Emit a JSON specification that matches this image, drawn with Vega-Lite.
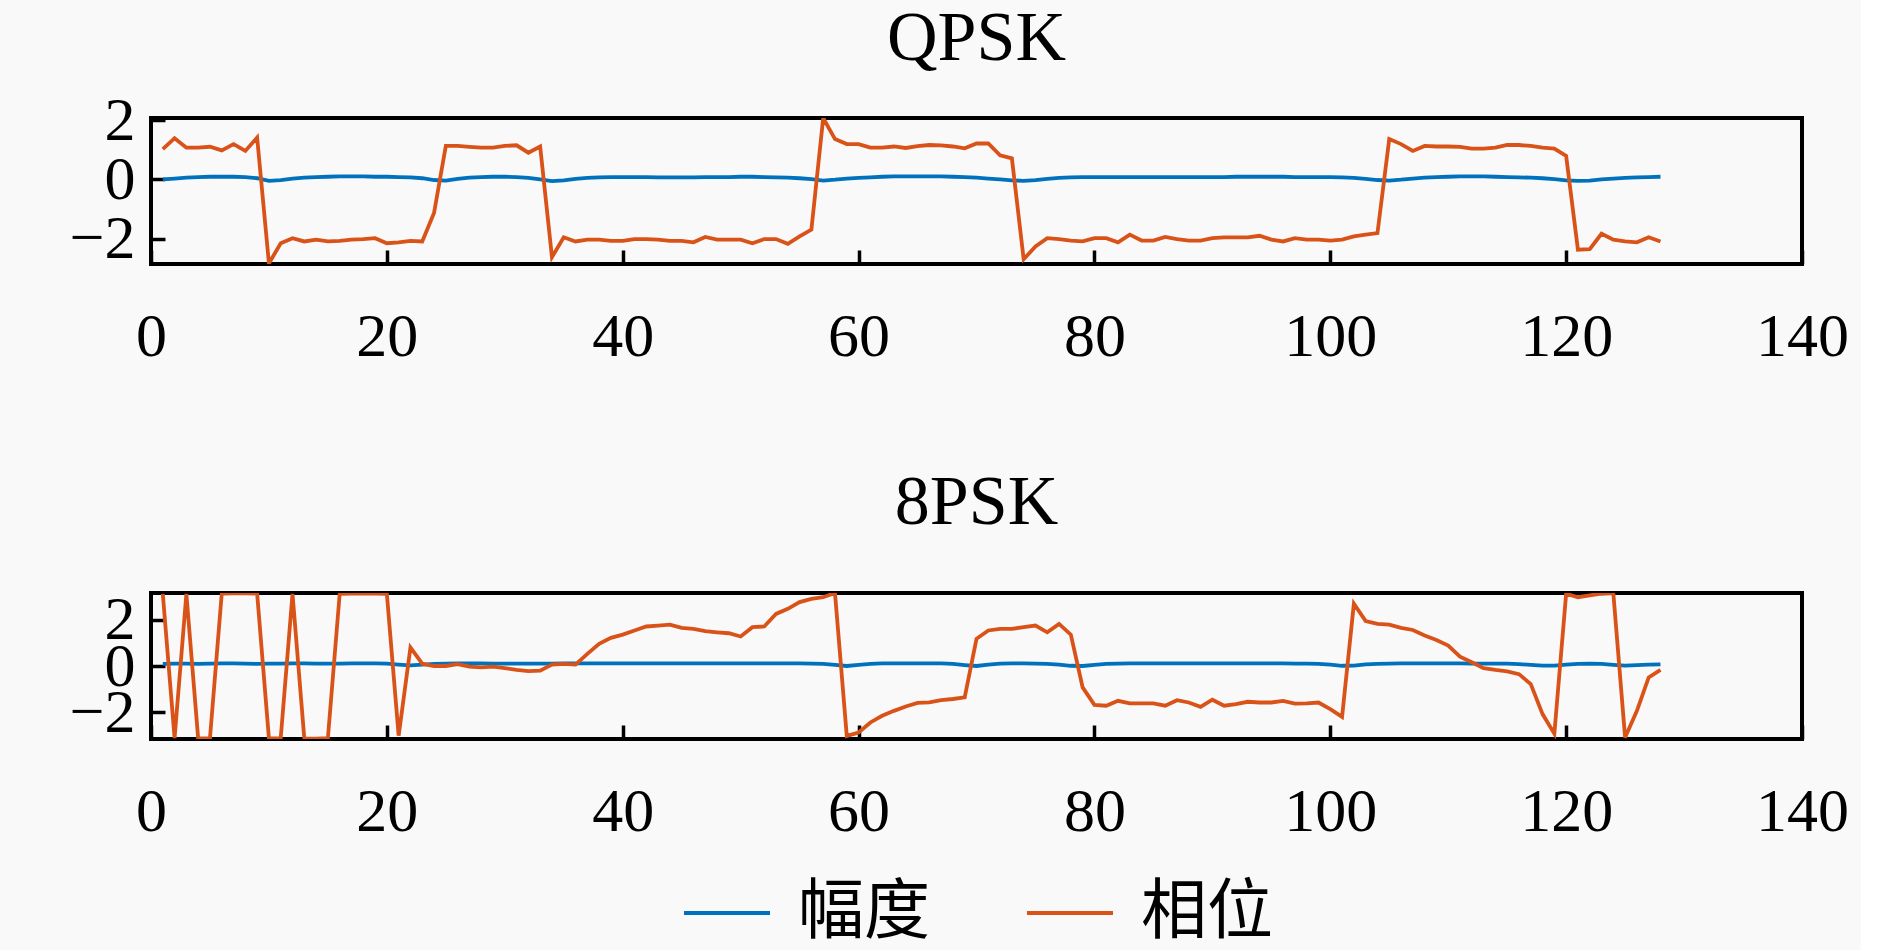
{
  "$schema": "https://vega.github.io/schema/vega-lite/v6.json",
  "background": "#f9f9f9",
  "padding": {"left": 67, "top": 2, "right": 10, "bottom": 80},
  "datasets": {
    "qpsk": [
      {"n":1,"amp":0.00,"phase":1.02},{"n":2,"amp":0.03,"phase":1.39},{"n":3,"amp":0.06,"phase":1.07},{"n":4,"amp":0.08,"phase":1.07},
      {"n":5,"amp":0.09,"phase":1.10},{"n":6,"amp":0.09,"phase":0.98},{"n":7,"amp":0.09,"phase":1.19},{"n":8,"amp":0.08,"phase":0.96},
      {"n":9,"amp":0.04,"phase":1.41},{"n":10,"amp":-0.05,"phase":-2.83},{"n":11,"amp":-0.02,"phase":-2.15},{"n":12,"amp":0.03,"phase":-1.98},
      {"n":13,"amp":0.06,"phase":-2.09},{"n":14,"amp":0.08,"phase":-2.03},{"n":15,"amp":0.09,"phase":-2.09},{"n":16,"amp":0.10,"phase":-2.07},
      {"n":17,"amp":0.10,"phase":-2.03},{"n":18,"amp":0.10,"phase":-2.01},{"n":19,"amp":0.09,"phase":-1.98},{"n":20,"amp":0.09,"phase":-2.15},
      {"n":21,"amp":0.08,"phase":-2.12},{"n":22,"amp":0.07,"phase":-2.07},{"n":23,"amp":0.04,"phase":-2.09},{"n":24,"amp":-0.02,"phase":-1.13},
      {"n":25,"amp":-0.04,"phase":1.13},{"n":26,"amp":0.02,"phase":1.13},{"n":27,"amp":0.06,"phase":1.10},{"n":28,"amp":0.08,"phase":1.07},
      {"n":29,"amp":0.09,"phase":1.07},{"n":30,"amp":0.09,"phase":1.13},{"n":31,"amp":0.08,"phase":1.15},{"n":32,"amp":0.05,"phase":0.90},
      {"n":33,"amp":0.00,"phase":1.11},{"n":34,"amp":-0.06,"phase":-2.62},{"n":35,"amp":-0.03,"phase":-1.95},{"n":36,"amp":0.02,"phase":-2.09},
      {"n":37,"amp":0.05,"phase":-2.03},{"n":38,"amp":0.07,"phase":-2.03},{"n":39,"amp":0.08,"phase":-2.07},{"n":40,"amp":0.08,"phase":-2.07},
      {"n":41,"amp":0.08,"phase":-2.01},{"n":42,"amp":0.08,"phase":-2.01},{"n":43,"amp":0.07,"phase":-2.03},{"n":44,"amp":0.07,"phase":-2.07},
      {"n":45,"amp":0.07,"phase":-2.07},{"n":46,"amp":0.07,"phase":-2.12},{"n":47,"amp":0.08,"phase":-1.94},{"n":48,"amp":0.08,"phase":-2.03},
      {"n":49,"amp":0.08,"phase":-2.03},{"n":50,"amp":0.09,"phase":-2.03},{"n":51,"amp":0.09,"phase":-2.15},{"n":52,"amp":0.08,"phase":-2.01},
      {"n":53,"amp":0.07,"phase":-2.01},{"n":54,"amp":0.06,"phase":-2.17},{"n":55,"amp":0.04,"phase":-1.92},{"n":56,"amp":0.01,"phase":-1.69},
      {"n":57,"amp":-0.04,"phase":2.07},{"n":58,"amp":-0.01,"phase":1.36},{"n":59,"amp":0.03,"phase":1.19},{"n":60,"amp":0.05,"phase":1.19},
      {"n":61,"amp":0.07,"phase":1.07},{"n":62,"amp":0.09,"phase":1.07},{"n":63,"amp":0.10,"phase":1.11},{"n":64,"amp":0.10,"phase":1.06},
      {"n":65,"amp":0.10,"phase":1.12},{"n":66,"amp":0.10,"phase":1.16},{"n":67,"amp":0.10,"phase":1.15},{"n":68,"amp":0.09,"phase":1.11},
      {"n":69,"amp":0.08,"phase":1.05},{"n":70,"amp":0.06,"phase":1.21},{"n":71,"amp":0.03,"phase":1.21},{"n":72,"amp":0.00,"phase":0.81},
      {"n":73,"amp":-0.03,"phase":0.71},{"n":74,"amp":-0.05,"phase":-2.69},{"n":75,"amp":-0.02,"phase":-2.26},{"n":76,"amp":0.02,"phase":-1.98},
      {"n":77,"amp":0.05,"phase":-2.01},{"n":78,"amp":0.07,"phase":-2.06},{"n":79,"amp":0.08,"phase":-2.09},{"n":80,"amp":0.08,"phase":-1.98},
      {"n":81,"amp":0.08,"phase":-1.98},{"n":82,"amp":0.08,"phase":-2.12},{"n":83,"amp":0.08,"phase":-1.86},{"n":84,"amp":0.08,"phase":-2.06},
      {"n":85,"amp":0.08,"phase":-2.06},{"n":86,"amp":0.08,"phase":-1.94},{"n":87,"amp":0.08,"phase":-2.01},{"n":88,"amp":0.08,"phase":-2.06},
      {"n":89,"amp":0.08,"phase":-2.06},{"n":90,"amp":0.08,"phase":-1.98},{"n":91,"amp":0.08,"phase":-1.95},{"n":92,"amp":0.09,"phase":-1.95},
      {"n":93,"amp":0.09,"phase":-1.95},{"n":94,"amp":0.09,"phase":-1.90},{"n":95,"amp":0.09,"phase":-2.03},{"n":96,"amp":0.09,"phase":-2.09},
      {"n":97,"amp":0.08,"phase":-1.98},{"n":98,"amp":0.08,"phase":-2.03},{"n":99,"amp":0.08,"phase":-2.03},{"n":100,"amp":0.08,"phase":-2.06},
      {"n":101,"amp":0.07,"phase":-2.03},{"n":102,"amp":0.05,"phase":-1.92},{"n":103,"amp":0.02,"phase":-1.86},{"n":104,"amp":-0.02,"phase":-1.81},
      {"n":105,"amp":-0.04,"phase":1.36},{"n":106,"amp":-0.01,"phase":1.19},{"n":107,"amp":0.03,"phase":0.96},{"n":108,"amp":0.06,"phase":1.13},
      {"n":109,"amp":0.08,"phase":1.11},{"n":110,"amp":0.09,"phase":1.11},{"n":111,"amp":0.10,"phase":1.10},{"n":112,"amp":0.10,"phase":1.04},
      {"n":113,"amp":0.10,"phase":1.04},{"n":114,"amp":0.09,"phase":1.07},{"n":115,"amp":0.08,"phase":1.16},{"n":116,"amp":0.07,"phase":1.16},
      {"n":117,"amp":0.06,"phase":1.13},{"n":118,"amp":0.04,"phase":1.07},{"n":119,"amp":0.01,"phase":1.04},{"n":120,"amp":-0.03,"phase":0.79},
      {"n":121,"amp":-0.05,"phase":-2.37},{"n":122,"amp":-0.04,"phase":-2.35},{"n":123,"amp":0.00,"phase":-1.83},{"n":124,"amp":0.03,"phase":-2.03},
      {"n":125,"amp":0.05,"phase":-2.09},{"n":126,"amp":0.07,"phase":-2.12},{"n":127,"amp":0.08,"phase":-1.95},{"n":128,"amp":0.09,"phase":-2.09}
    ],
    "psk8": [
      {"n":1,"amp":0.09,"phase":3.10},{"n":2,"amp":0.10,"phase":-3.10},{"n":3,"amp":0.10,"phase":3.10},{"n":4,"amp":0.09,"phase":-3.12},
      {"n":5,"amp":0.10,"phase":-3.10},{"n":6,"amp":0.11,"phase":3.12},{"n":7,"amp":0.11,"phase":3.13},{"n":8,"amp":0.10,"phase":3.13},
      {"n":9,"amp":0.09,"phase":3.12},{"n":10,"amp":0.10,"phase":-3.12},{"n":11,"amp":0.10,"phase":-3.10},{"n":12,"amp":0.11,"phase":3.10},
      {"n":13,"amp":0.11,"phase":-3.12},{"n":14,"amp":0.10,"phase":-3.13},{"n":15,"amp":0.10,"phase":-3.10},{"n":16,"amp":0.10,"phase":3.10},
      {"n":17,"amp":0.11,"phase":3.12},{"n":18,"amp":0.11,"phase":3.13},{"n":19,"amp":0.11,"phase":3.12},{"n":20,"amp":0.10,"phase":3.10},
      {"n":21,"amp":0.06,"phase":-3.00},{"n":22,"amp":0.03,"phase":0.80},{"n":23,"amp":0.06,"phase":0.10},{"n":24,"amp":0.09,"phase":0.00},
      {"n":25,"amp":0.10,"phase":0.00},{"n":26,"amp":0.11,"phase":0.08},{"n":27,"amp":0.11,"phase":-0.03},{"n":28,"amp":0.11,"phase":-0.06},
      {"n":29,"amp":0.10,"phase":-0.03},{"n":30,"amp":0.10,"phase":-0.09},{"n":31,"amp":0.10,"phase":-0.17},{"n":32,"amp":0.10,"phase":-0.22},
      {"n":33,"amp":0.10,"phase":-0.20},{"n":34,"amp":0.10,"phase":0.06},{"n":35,"amp":0.11,"phase":0.09},{"n":36,"amp":0.11,"phase":0.06},
      {"n":37,"amp":0.11,"phase":0.52},{"n":38,"amp":0.11,"phase":0.95},{"n":39,"amp":0.11,"phase":1.21},{"n":40,"amp":0.11,"phase":1.35},
      {"n":41,"amp":0.11,"phase":1.53},{"n":42,"amp":0.11,"phase":1.70},{"n":43,"amp":0.11,"phase":1.74},{"n":44,"amp":0.11,"phase":1.78},
      {"n":45,"amp":0.11,"phase":1.64},{"n":46,"amp":0.11,"phase":1.60},{"n":47,"amp":0.11,"phase":1.50},{"n":48,"amp":0.11,"phase":1.45},
      {"n":49,"amp":0.11,"phase":1.41},{"n":50,"amp":0.11,"phase":1.27},{"n":51,"amp":0.11,"phase":1.67},{"n":52,"amp":0.11,"phase":1.70},
      {"n":53,"amp":0.11,"phase":2.24},{"n":54,"amp":0.11,"phase":2.46},{"n":55,"amp":0.11,"phase":2.75},{"n":56,"amp":0.10,"phase":2.89},
      {"n":57,"amp":0.09,"phase":2.96},{"n":58,"amp":0.05,"phase":3.14},{"n":59,"amp":0.00,"phase":-3.01},{"n":60,"amp":0.05,"phase":-2.86},
      {"n":61,"amp":0.09,"phase":-2.43},{"n":62,"amp":0.11,"phase":-2.14},{"n":63,"amp":0.11,"phase":-1.93},{"n":64,"amp":0.11,"phase":-1.74},
      {"n":65,"amp":0.11,"phase":-1.59},{"n":66,"amp":0.11,"phase":-1.57},{"n":67,"amp":0.11,"phase":-1.47},{"n":68,"amp":0.09,"phase":-1.42},
      {"n":69,"amp":0.04,"phase":-1.35},{"n":70,"amp":0.00,"phase":1.17},{"n":71,"amp":0.06,"phase":1.53},{"n":72,"amp":0.10,"phase":1.60},
      {"n":73,"amp":0.11,"phase":1.60},{"n":74,"amp":0.11,"phase":1.67},{"n":75,"amp":0.10,"phase":1.74},{"n":76,"amp":0.09,"phase":1.45},
      {"n":77,"amp":0.06,"phase":1.81},{"n":78,"amp":0.01,"phase":1.35},{"n":79,"amp":0.00,"phase":-0.92},{"n":80,"amp":0.05,"phase":-1.67},
      {"n":81,"amp":0.09,"phase":-1.71},{"n":82,"amp":0.10,"phase":-1.50},{"n":83,"amp":0.11,"phase":-1.61},{"n":84,"amp":0.11,"phase":-1.61},
      {"n":85,"amp":0.11,"phase":-1.61},{"n":86,"amp":0.11,"phase":-1.71},{"n":87,"amp":0.11,"phase":-1.47},{"n":88,"amp":0.11,"phase":-1.57},
      {"n":89,"amp":0.11,"phase":-1.76},{"n":90,"amp":0.11,"phase":-1.45},{"n":91,"amp":0.11,"phase":-1.71},{"n":92,"amp":0.11,"phase":-1.64},
      {"n":93,"amp":0.11,"phase":-1.54},{"n":94,"amp":0.11,"phase":-1.57},{"n":95,"amp":0.11,"phase":-1.57},{"n":96,"amp":0.11,"phase":-1.50},
      {"n":97,"amp":0.10,"phase":-1.62},{"n":98,"amp":0.10,"phase":-1.61},{"n":99,"amp":0.09,"phase":-1.57},{"n":100,"amp":0.06,"phase":-1.86},
      {"n":101,"amp":0.01,"phase":-2.19},{"n":102,"amp":0.02,"phase":2.68},{"n":103,"amp":0.07,"phase":1.93},{"n":104,"amp":0.09,"phase":1.81},
      {"n":105,"amp":0.10,"phase":1.78},{"n":106,"amp":0.11,"phase":1.64},{"n":107,"amp":0.11,"phase":1.55},{"n":108,"amp":0.11,"phase":1.31},
      {"n":109,"amp":0.11,"phase":1.12},{"n":110,"amp":0.11,"phase":0.88},{"n":111,"amp":0.11,"phase":0.40},{"n":112,"amp":0.10,"phase":0.16},
      {"n":113,"amp":0.10,"phase":-0.09},{"n":114,"amp":0.10,"phase":-0.17},{"n":115,"amp":0.10,"phase":-0.23},{"n":116,"amp":0.08,"phase":-0.35},
      {"n":117,"amp":0.05,"phase":-0.78},{"n":118,"amp":0.02,"phase":-2.07},{"n":119,"amp":0.02,"phase":-2.91},{"n":120,"amp":0.06,"phase":3.11},
      {"n":121,"amp":0.09,"phase":2.96},{"n":122,"amp":0.10,"phase":3.04},{"n":123,"amp":0.09,"phase":3.11},{"n":124,"amp":0.05,"phase":3.14},
      {"n":125,"amp":0.02,"phase":-3.08},{"n":126,"amp":0.04,"phase":-1.93},{"n":127,"amp":0.06,"phase":-0.49},{"n":128,"amp":0.07,"phase":-0.17}
    ]
  },
  "spacing": 96,
  "vconcat": [
    {
      "title": {"text": "QPSK", "offset": 14},
      "data": {"name": "qpsk"},
      "transform": [{"fold": ["amp", "phase"], "as": ["series", "value"]}],
      "width": 1651,
      "height": 146,
      "mark": {"type": "line", "strokeWidth": 3.8, "clip": true},
      "encoding": {
        "x": {"field": "n", "type": "quantitative", "scale": {"domain": [0, 140], "nice": false},
              "axis": {"values": [0, 20, 40, 60, 80, 100, 120, 140]}},
        "y": {"field": "value", "type": "quantitative", "scale": {"domain": [-2.85, 2.07], "nice": false, "zero": false},
              "axis": {"values": [-2, 0, 2]}},
        "color": {"field": "series", "type": "nominal",
                  "legend": {"orient": "none", "legendX": 531, "legendY": 750, "labelExpr": "datum.label == 'amp' ? '幅度' : '相位'"}}
      }
    },
    {
      "title": {"text": "8PSK", "offset": 50},
      "data": {"name": "psk8"},
      "transform": [{"fold": ["amp", "phase"], "as": ["series", "value"]}],
      "width": 1651,
      "height": 146,
      "mark": {"type": "line", "strokeWidth": 3.8, "clip": true},
      "encoding": {
        "x": {"field": "n", "type": "quantitative", "scale": {"domain": [0, 140], "nice": false},
              "axis": {"values": [0, 20, 40, 60, 80, 100, 120, 140]}},
        "y": {"field": "value", "type": "quantitative", "scale": {"domain": [-3.1416, 3.1416], "nice": false, "zero": false},
              "axis": {"values": [-2, 0, 2]}},
        "color": {"field": "series", "type": "nominal",
                  "legend": {"orient": "none", "legendX": 531, "legendY": 750, "labelExpr": "datum.label == 'amp' ? '幅度' : '相位'"}}
      }
    }
  ],
  "resolve": {"scale": {"color": "shared"}},
  "config": {
    "view": {"stroke": "black", "strokeWidth": 4},
    "title": {"font": "Liberation Serif", "fontSize": 70, "fontWeight": "normal", "color": "black", "anchor": "middle", "frame": "group"},
    "axis": {
      "title": null, "grid": false, "domain": false,
      "labelFont": "Liberation Serif", "labelFontSize": 62, "labelColor": "black",
      "tickColor": "black", "tickWidth": 3.5, "tickSize": -14,
      "labelFlush": false, "labelOverlap": false
    },
    "axisX": {"labelPadding": 56, "format": "d"},
    "axisY": {"labelPadding": 30, "format": "d"},
    "range": {"category": ["#0072BD", "#D95319"]},
    "legend": {
      "direction": "horizontal", "title": null,
      "symbolType": "stroke", "symbolSize": 7400, "symbolStrokeWidth": 3.8,
      "labelFont": "Noto Sans CJK SC", "labelFontSize": 66, "labelColor": "black",
      "columnPadding": 89, "labelOffset": 26
    }
  }
}
